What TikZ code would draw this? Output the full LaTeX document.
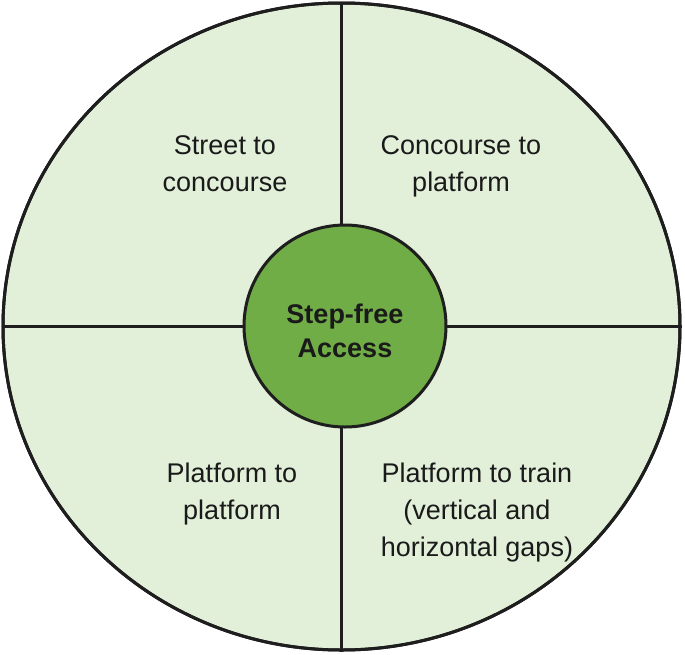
\documentclass[tikz,border=0pt]{standalone}
\usepackage{fontspec}
\setmainfont{Liberation Sans}
\usetikzlibrary{shapes.geometric}
\definecolor{paleGreen}{HTML}{E2EFD9}
\definecolor{hubGreen}{HTML}{70AD47}
\definecolor{inkLine}{HTML}{1E1E1E}
\definecolor{inkText}{HTML}{1A1A1A}
\begin{document}
\begin{tikzpicture}[x=1pt,y=-1pt,
  outerring/.style={ellipse,draw=inkLine,fill=paleGreen,line width=3pt,inner sep=0pt,minimum width=677pt,minimum height=647pt},
  divider/.style={draw=inkLine,line width=2.6pt},
  hubnode/.style={circle,draw=inkLine,fill=hubGreen,line width=3pt,inner sep=0pt,minimum size=202pt},
  hubtext/.style={align=center,inner sep=0pt,font=\fontsize{27}{34}\selectfont\bfseries,text=inkText},
  label/.style={align=center,font=\fontsize{27}{37}\selectfont,text=inkText,inner sep=0pt}]
\useasboundingbox (0,0) rectangle (685,654);
\node[outerring] (outer) at (341.5,326.5) {};
\draw[divider] (outer.north) -- (outer.south);
\draw[divider] (outer.west) -- (outer.east);
\node[outerring,fill=none] (rim) at (341.5,326.5) {};
\node[hubnode] (hub) at (345,326) {};
\node[hubtext,anchor=base] (hublabel) at (345,357) {Step-free\\Access};
\node[label,anchor=base] (tl) at (225,191) {Street to\\concourse};
\node[label,anchor=base] (tr) at (461,191) {Concourse to\\platform};
\node[label,anchor=base] (bl) at (232,519) {Platform to\\platform};
\node[label,anchor=base] (br) at (477,556) {Platform to train\\(vertical and\\horizontal gaps)};
\end{tikzpicture}
\end{document}
